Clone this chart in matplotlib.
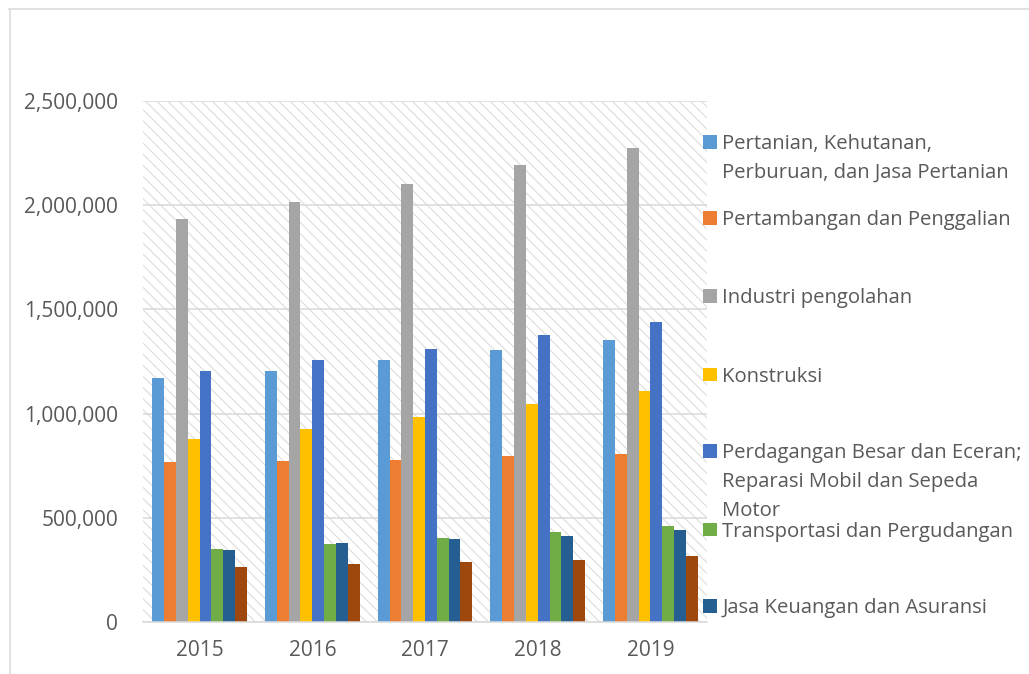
import matplotlib
matplotlib.use("Agg")
import matplotlib.pyplot as plt
import numpy as np
from matplotlib.patches import Rectangle
from matplotlib.lines import Line2D
from matplotlib.ticker import FuncFormatter

years = ["2015", "2016", "2017", "2018", "2019"]
series_names = [
    "Pertanian, Kehutanan,\nPerburuan, dan Jasa Pertanian",
    "Pertambangan dan Penggalian",
    "Industri pengolahan",
    "Konstruksi",
    "Perdagangan Besar dan Eceran;\nReparasi Mobil dan Sepeda\nMotor",
    "Transportasi dan Pergudangan",
    "Jasa Keuangan dan Asuransi",
    "Jasa Pendidikan",
]
pertanian = [1170000, 1205000, 1257000, 1306000, 1354000]
pertambangan = [767000, 774000, 779000, 797000, 805000]
industri = [1932000, 2015000, 2102000, 2192000, 2275000]
konstruksi = [878000, 924000, 986000, 1048000, 1108000]
perdagangan = [1205000, 1255000, 1311000, 1375000, 1439000]
transportasi = [349000, 374000, 405000, 434000, 462000]
keuangan = [346000, 378000, 398000, 415000, 442000]
lainnya = [265000, 278000, 288000, 299000, 315000]
all_series = [pertanian, pertambangan, industri, konstruksi,
              perdagangan, transportasi, keuangan, lainnya]
colors = ["#5B9BD5", "#ED7D31", "#A5A5A5", "#FFC000",
          "#4472C4", "#70AD47", "#255E91", "#9E480E"]

W, H = 1029, 674
plt.rcParams['font.family'] = ['Open Sans', 'DejaVu Sans']
plt.rcParams['hatch.linewidth'] = 0.8
fig = plt.figure(figsize=(W / 100, H / 100), dpi=100)
txtc = "#595959"
gridc = "#D9D9D9"

ax = fig.add_axes([143.3 / W, 1 - 622 / H, (706.7 - 143.3) / W, (622 - 101) / H])
ax.patch.set_visible(False)
bg = Rectangle((0, 0), 1, 1, transform=ax.transAxes, facecolor="white",
               edgecolor="#DCDCDC", hatch="\\\\\\", lw=0, zorder=0)
ax.add_patch(bg)

x = np.arange(len(years))
n = len(all_series)
bw = 0.105
for i, (vals, c) in enumerate(zip(all_series, colors)):
    ax.bar(x + (i - (n - 1) / 2) * bw, vals, width=bw, color=c, zorder=3, lw=0)

ax.set_xlim(-0.5, len(years) - 0.5)
ax.set_ylim(0, 2500000)
ax.set_yticks(np.arange(0, 2500001, 500000))
ax.yaxis.set_major_formatter(FuncFormatter(lambda v, p: f"{int(v):,}"))
ax.set_xticks(x)
ax.set_xticklabels(years)
ax.grid(axis="y", color=gridc, lw=1.1, zorder=1)
ax.set_axisbelow(True)
for s in ["left", "right", "top"]:
    ax.spines[s].set_visible(False)
ax.spines["bottom"].set_color(gridc)
ax.spines["bottom"].set_linewidth(1.1)
ax.spines["bottom"].set_zorder(4)
ax.tick_params(axis="both", length=0, labelsize=15, labelcolor=txtc)
ax.tick_params(axis="y", pad=18)
ax.tick_params(axis="x", pad=13)

# outer chart border (top and left visible)
fig.add_artist(Line2D([9 / W, 1.0], [1 - 9 / H, 1 - 9 / H], color=gridc, lw=1.1))
fig.add_artist(Line2D([9.5 / W, 9.5 / W], [0, 1 - 9 / H], color=gridc, lw=1.1))

# legend (manually placed, last entry clipped in original)
baselines = [149.3, 225, 303.3, 381.7, 458.3, 536.7, 613.3]
line_h = 28.8
for name, c, b in zip(series_names[:7], colors[:7], baselines):
    fig.add_artist(Rectangle((702.7 / W, 1 - (b - 0.5) / H), 14 / W, 13.5 / H,
                             transform=fig.transFigure, facecolor=c, lw=0))
    for k, line in enumerate(name.split("\n")):
        fig.text(722.5 / W, 1 - (b + k * line_h) / H, line, fontsize=14.6,
                 color=txtc, ha="left", va="baseline")

fig.savefig("out.png", dpi=100)
